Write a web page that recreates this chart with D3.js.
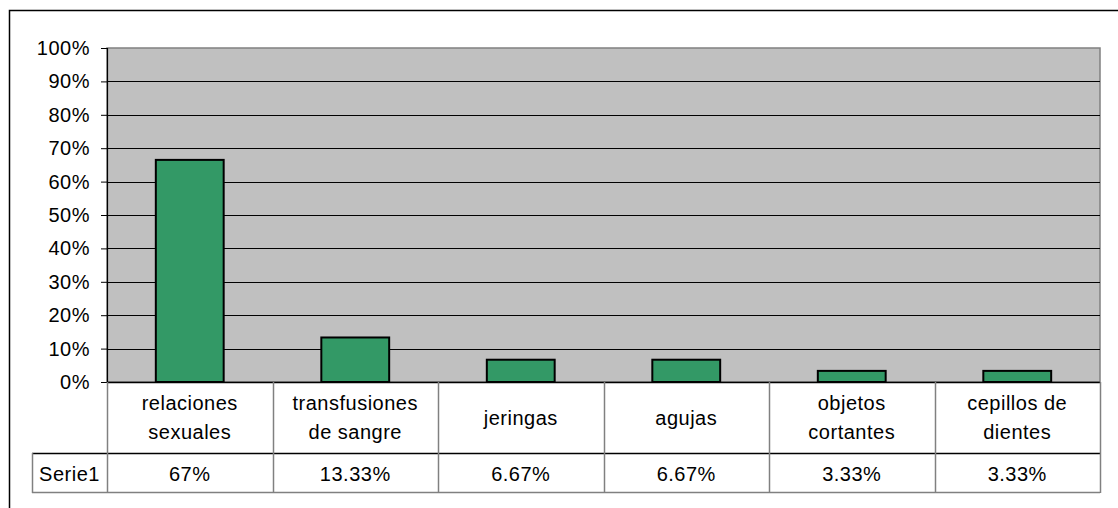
<!DOCTYPE html>
<html>
<head>
<meta charset="utf-8">
<script src="https://cdn.jsdelivr.net/npm/d3@7"></script>
<style>
  body { margin: 0; background: #fff; }
  text { font-family: "Liberation Sans", Arial, sans-serif; font-size: 20px; fill: #000; letter-spacing: 0.5px; }
</style>
</head>
<body>
<div id="chart"></div>
<script>
// Data
const categories = [
    ["relaciones", "sexuales"],
    ["transfusiones", "de sangre"],
    ["jeringas"],
    ["agujas"],
    ["objetos", "cortantes"],
    ["cepillos de", "dientes"]
];
const values = [0.665, 0.1333, 0.0667, 0.0667, 0.0333, 0.0333];
const valueLabels = ["67%", "13.33%", "6.67%", "6.67%", "3.33%", "3.33%"];
const seriesName = "Serie1";
const yTicks = [0, 0.1, 0.2, 0.3, 0.4, 0.5, 0.6, 0.7, 0.8, 0.9, 1];

const W = 1118, H = 508;
const plot = {left: 107, top: 48, right: 1100, bottom: 382};
const rowCat = 453, rowSer = 492, tableLeft = 32;

const svg = d3.select("#chart").append("svg")
    .attr("width", W)
    .attr("height", H);

// outer chart border (right/bottom run off the picture)
svg.append("path")
    .attr("d", `M9.5,${H + 2} V10.5 H${W + 2}`)
    .attr("fill", "none")
    .attr("stroke", "#000")
    .attr("stroke-width", 1.5);

const x = d3.scaleBand()
    .domain(d3.range(categories.length))
    .range([plot.left, plot.right])
    .paddingInner(0.59)
    .paddingOuter(0.295);

const xCell = d3.scaleBand()
    .domain(d3.range(categories.length))
    .range([plot.left, plot.right]);

const y = d3.scaleLinear()
    .domain([0, 1])
    .range([plot.bottom, plot.top]);

// plot background
svg.append("rect")
    .attr("x", plot.left)
    .attr("y", plot.top)
    .attr("width", plot.right - plot.left)
    .attr("height", plot.bottom - plot.top)
    .attr("fill", "#c0c0c0")
    .attr("stroke", "#808080")
    .attr("stroke-width", 1.5);

// gridlines
svg.append("g")
    .selectAll("line")
    .data(yTicks.filter(d => d > 0 && d < 1))
    .enter()
    .append("line")
    .attr("x1", plot.left)
    .attr("x2", plot.right)
    .attr("y1", d => Math.round(y(d)) + 0.5)
    .attr("y2", d => Math.round(y(d)) + 0.5)
    .attr("stroke", "#000")
    .attr("stroke-width", 1);

// y axis
const yAxis = svg.append("g")
    .attr("transform", `translate(${plot.left},0)`)
    .call(d3.axisLeft(y).tickValues(yTicks).tickFormat(d3.format(".0%")).tickSize(6).tickPadding(11));
yAxis.select(".domain").attr("stroke", "#000").attr("stroke-width", 1.2);
yAxis.selectAll(".tick line").attr("stroke", "#000");
yAxis.selectAll("text")
    .style("font-family", "'Liberation Sans', Arial, sans-serif")
    .style("font-size", "20px")
    .attr("fill", "#000");

// bars
svg.append("g")
    .selectAll("rect")
    .data(values)
    .enter()
    .append("rect")
    .attr("x", (d, i) => x(i))
    .attr("y", d => y(d))
    .attr("width", x.bandwidth())
    .attr("height", d => plot.bottom - y(d))
    .attr("fill", "#339966")
    .attr("stroke", "#000")
    .attr("stroke-width", 2);

// data table
const table = svg.append("g");
table.append("line")
    .attr("x1", plot.left).attr("x2", plot.right)
    .attr("y1", plot.bottom + 0.5).attr("y2", plot.bottom + 0.5)
    .attr("stroke", "#000").attr("stroke-width", 1.5);
table.append("line")
    .attr("x1", tableLeft).attr("x2", plot.right)
    .attr("y1", rowCat + 0.5).attr("y2", rowCat + 0.5)
    .attr("stroke", "#000").attr("stroke-width", 1.5);
table.append("line")
    .attr("x1", tableLeft).attr("x2", plot.right)
    .attr("y1", rowSer + 0.5).attr("y2", rowSer + 0.5)
    .attr("stroke", "#808080").attr("stroke-width", 1.5);

// vertical separators
const seps = d3.range(categories.length + 1).map(i => i < categories.length ? xCell(i) : plot.right);
table.selectAll(".sep")
    .data(seps)
    .enter()
    .append("line")
    .attr("class", "sep")
    .attr("x1", d => Math.round(d) + 0.5).attr("x2", d => Math.round(d) + 0.5)
    .attr("y1", plot.bottom).attr("y2", rowSer + 1)
    .attr("stroke", "#808080").attr("stroke-width", 1.5);
table.append("line")
    .attr("x1", tableLeft + 0.5).attr("x2", tableLeft + 0.5)
    .attr("y1", rowCat).attr("y2", rowSer + 1)
    .attr("stroke", "#808080").attr("stroke-width", 1.5);

// category labels
const catMid = (plot.bottom + rowCat) / 2;
table.selectAll(".cat")
    .data(categories)
    .enter()
    .append("text")
    .attr("class", "cat")
    .attr("text-anchor", "middle")
    .attr("x", (d, i) => xCell(i) + xCell.bandwidth() / 2)
    .attr("y", catMid)
    .each(function (d) {
        const t = d3.select(this);
        const lh = 29;
        d.forEach((line, k) => {
            t.append("tspan")
                .attr("x", t.attr("x"))
                .attr("y", catMid + (k - (d.length - 1) / 2) * lh)
                .attr("dy", "0.35em")
                .text(line);
        });
    });

// series row
const serMid = (rowCat + rowSer) / 2 + 1;
table.append("text")
    .attr("x", (tableLeft + plot.left) / 2)
    .attr("y", serMid)
    .attr("dy", "0.35em")
    .attr("text-anchor", "middle")
    .text(seriesName);
table.selectAll(".val")
    .data(valueLabels)
    .enter()
    .append("text")
    .attr("class", "val")
    .attr("text-anchor", "middle")
    .attr("x", (d, i) => xCell(i) + xCell.bandwidth() / 2)
    .attr("y", serMid)
    .attr("dy", "0.35em")
    .text(d => d);
</script>
</body>
</html>
